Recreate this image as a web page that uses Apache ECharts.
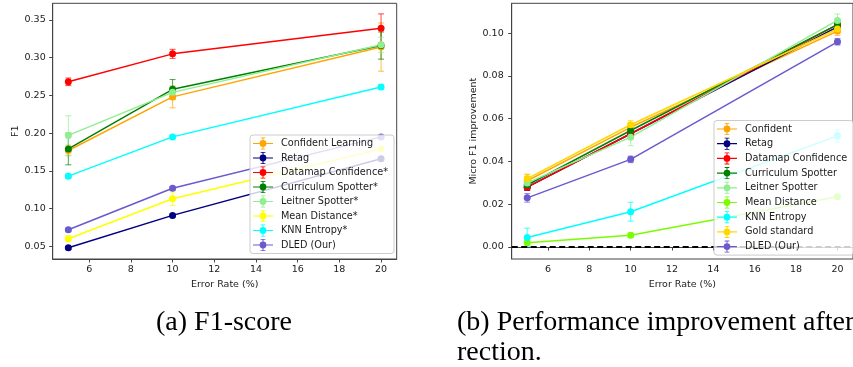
<!DOCTYPE html>
<html><head><meta charset="utf-8">
<script src="https://cdn.jsdelivr.net/npm/echarts@6/dist/echarts.min.js"></script>
<style>html,body{margin:0;padding:0;background:#fff;overflow:hidden}#c{width:853px;height:367px}</style>
</head><body><div id="c"></div>
<script>
// ---------- DATA ----------
const errorRates = [5, 10, 20];
const xTicks = [6, 8, 10, 12, 14, 16, 18, 20];

// (a) F1-score
const f1Names = ['Confident Learning', 'Retag', 'Datamap Confidence*', 'Curriculum Spotter*', 'Leitner Spotter*', 'Mean Distance*', 'KNN Entropy*', 'DLED (Our)'];
const f1ConfidentLearning = [0.177, 0.248, 0.314];
const f1Retag = [0.048, 0.091, 0.166];
const f1Datamap = [0.268, 0.305, 0.339];
const f1Curriculum = [0.179, 0.258, 0.316];
const f1Leitner = [0.197, 0.254, 0.317];
const f1MeanDistance = [0.060, 0.113, 0.179];
const f1KNN = [0.143, 0.195, 0.261];
const f1DLED = [0.072, 0.127, 0.195];
const f1ErrConfidentLearning = [0.007, 0.0145, 0.032];
const f1ErrRetag = [0.002, 0.002, 0.002];
const f1ErrDatamap = [0.005, 0.006, 0.019];
const f1ErrCurriculum = [0.021, 0.013, 0.018];
const f1ErrLeitner = [0.026, 0.008, 0.010];
const f1ErrMeanDistance = [0.004, 0.009, 0.003];
const f1ErrKNN = [0.003, 0.002, 0.003];
const f1ErrDLED = [0.002, 0.002, 0.002];
const f1YTicks = [0.05, 0.10, 0.15, 0.20, 0.25, 0.30, 0.35];

// (b) Micro F1 improvement
const impNames = ['Confident', 'Retag', 'Datamap Confidence', 'Curriculum Spotter', 'Leitner Spotter', 'Mean Distance', 'KNN Entropy', 'Gold standard', 'DLED (Our)'];
const impConfident = [0.031, 0.056, 0.101];
const impRetag = [0.028, 0.053, 0.103];
const impDatamap = [0.028, 0.053, 0.104];
const impCurriculum = [0.029, 0.0545, 0.104];
const impLeitner = [0.030, 0.0514, 0.106];
const impMeanDistance = [0.002, 0.0055, 0.0235];
const impKNN = [0.0045, 0.0165, 0.052];
const impGold = [0.032, 0.0572, 0.102];
const impDLED = [0.023, 0.041, 0.096];
const impErrConfident = [0.003, 0.002, 0.002];
const impErrRetag = [0.0015, 0.0015, 0.0015];
const impErrDatamap = [0.0015, 0.0015, 0.0015];
const impErrCurriculum = [0.0015, 0.0015, 0.0015];
const impErrLeitner = [0.003, 0.004, 0.003];
const impErrMeanDistance = [0.001, 0.001, 0.001];
const impErrKNN = [0.0043, 0.0044, 0.003];
const impErrGold = [0.002, 0.002, 0.002];
const impErrDLED = [0.002, 0.0015, 0.0015];
const impYTicks = [0.00, 0.02, 0.04, 0.06, 0.08, 0.10];
const impBaseline = 0;

const captionA = '(a) F1-score';
const captionB1 = '(b) Performance improvement after';
const captionB2 = 'rection.';

// ---------- STYLE ----------
const f1Colors = ['#FFA500', '#000080', '#FF0000', '#008000', '#90EE90', '#FFFF00', '#00FFFF', '#6A5ACD'];
const impColors = ['#FFA500', '#000080', '#FF0000', '#008000', '#90EE90', '#7CFC00', '#00FFFF', '#FFD700', '#6A5ACD'];
const f1Values = [f1ConfidentLearning, f1Retag, f1Datamap, f1Curriculum, f1Leitner, f1MeanDistance, f1KNN, f1DLED];
const f1Errs = [f1ErrConfidentLearning, f1ErrRetag, f1ErrDatamap, f1ErrCurriculum, f1ErrLeitner, f1ErrMeanDistance, f1ErrKNN, f1ErrDLED];
const impValues = [impConfident, impRetag, impDatamap, impCurriculum, impLeitner, impMeanDistance, impKNN, impGold, impDLED];
const impErrs = [impErrConfident, impErrRetag, impErrDatamap, impErrCurriculum, impErrLeitner, impErrMeanDistance, impErrKNN, impErrGold, impErrDLED];

const FONT = 'DejaVu Sans';
const TXT = '#1a1a1a';
// legend icon: line + marker + errorbar (non overlapping pieces)
const ICON = 'path://M0,5.4H6.6V6.6H0Z M13.4,5.4H20V6.6H13.4Z ' +
  'M6.6,6A3.4,3.4 0 1 1 13.4,6A3.4,3.4 0 1 1 6.6,6Z ' +
  'M9.5,0.8H10.5V2.6H9.5Z M9.5,9.4H10.5V11.2H9.5Z M7.6,0H12.4V0.8H7.6Z M7.6,11.2H12.4V12H7.6Z';

function errSeries(name, xs, ys, es, color, gi, z) {
  return {
    type: 'custom', name: name, xAxisIndex: gi, yAxisIndex: gi, z: z,
    silent: true, clip: false,
    data: xs.map((x, i) => [x, ys[i], es[i]]),
    encode: { x: 0, y: 1 },
    renderItem: function (params, api) {
      const x = api.value(0), y = api.value(1), e = api.value(2);
      const lo = api.coord([x, y - e]), hi = api.coord([x, y + e]);
      const st = { stroke: color, lineWidth: 1.1, opacity: 0.65 };
      return { type: 'group', children: [
        { type: 'line', shape: { x1: lo[0], y1: lo[1], x2: hi[0], y2: hi[1] }, style: st },
        { type: 'line', shape: { x1: lo[0] - 3, y1: lo[1], x2: lo[0] + 3, y2: lo[1] }, style: st },
        { type: 'line', shape: { x1: hi[0] - 3, y1: hi[1], x2: hi[0] + 3, y2: hi[1] }, style: st }
      ]};
    }
  };
}
function lineSeries(name, xs, ys, color, gi, z) {
  return {
    type: 'line', name: name, xAxisIndex: gi, yAxisIndex: gi, z: z,
    data: xs.map((x, i) => [x, ys[i]]),
    symbol: 'circle', symbolSize: 7, showSymbol: true,
    lineStyle: { color: color, width: 1.5 },
    itemStyle: { color: color, borderWidth: 0 },
    emphasis: { disabled: true }, animation: false
  };
}

const series = [];
f1Names.forEach((n, i) => {
  series.push(errSeries('e_a' + i, errorRates, f1Values[i], f1Errs[i], f1Colors[i], 0, 2));
  series.push(lineSeries(n, errorRates, f1Values[i], f1Colors[i], 0, 2));
});
impNames.forEach((n, i) => {
  series.push(errSeries('e_b' + i, errorRates, impValues[i], impErrs[i], impColors[i], 1, 2));
  const s = lineSeries(n, errorRates, impValues[i], impColors[i], 1, 2);
  if (i === 0) {
    s.markLine = {
      silent: true, symbol: ['none', 'none'], label: { show: false }, z: 3,
      lineStyle: { color: '#000000', type: [6, 3.5], width: 1.8, opacity: 1 },
      emphasis: { disabled: true },
      data: [{ yAxis: impBaseline }], animation: false
    };
  }
  series.push(s);
});

function xAxis(gi) {
  return {
    type: 'value', gridIndex: gi, min: 4.25, max: 20.75,
    name: 'Error Rate (%)', nameLocation: 'middle', nameGap: 20,
    nameTextStyle: { fontFamily: FONT, fontSize: 9.5, color: TXT },
    axisLine: { show: true, lineStyle: { color: '#444', width: 1 } },
    axisTick: { show: true, length: 3.5, lineStyle: { color: '#444' }, customValues: xTicks },
    axisLabel: { fontFamily: FONT, fontSize: 9.5, color: TXT, margin: 6, customValues: xTicks },
    splitLine: { show: false }
  };
}
function yAxis(gi, min, max, ticks, name, gap, margin) {
  return {
    type: 'value', gridIndex: gi, min: min, max: max,
    name: name, nameLocation: 'middle', nameGap: gap,
    nameTextStyle: { fontFamily: FONT, fontSize: 9.5, color: TXT },
    axisLine: { show: true, lineStyle: { color: '#444', width: 1 } },
    axisTick: { show: true, length: 3.5, lineStyle: { color: '#444' }, customValues: ticks },
    axisLabel: { fontFamily: FONT, fontSize: 9.5, color: TXT, margin: margin, customValues: ticks,
      formatter: v => v.toFixed(2) },
    splitLine: { show: false }
  };
}
function legend(names, left, top, gap) {
  return {
    orient: 'vertical', left: left, top: top,
    data: names.map(n => ({ name: n, icon: ICON })),
    itemWidth: 20, itemHeight: 12, itemGap: gap, padding: [2.5, 6, 2.5, 3],
    backgroundColor: 'rgba(255,255,255,0.8)', borderColor: '#cccccc', borderWidth: 1, borderRadius: 3,
    itemStyle: { borderWidth: 0 },
    textStyle: { fontFamily: FONT, fontSize: 9.7, color: TXT, padding: [0, 0, 0, 3] },
    selectedMode: false, z: 10
  };
}

const chart = echarts.init(document.getElementById('c'), null, { renderer: 'canvas' });
chart.setOption({
  animation: false,
  backgroundColor: '#fff',
  grid: [
    { left: 52.7, top: 3.3, width: 344, height: 255.7, show: true, borderColor: '#444', borderWidth: 1, backgroundColor: 'transparent' },
    { left: 511.7, top: 3.3, width: 343.3, height: 255.7, show: true, borderColor: '#444', borderWidth: 1, backgroundColor: 'transparent' }
  ],
  xAxis: [xAxis(0), xAxis(1)],
  yAxis: [
    yAxis(0, 0.0332, 0.372, f1YTicks, 'F1', 31, 7),
    yAxis(1, -0.0056, 0.114, impYTicks, 'Micro F1 improvement', 31, 8)
  ],
  legend: [legend(f1Names, 250, 135, 2.5), legend(impNames, 714, 120.5, 2.7)],
  series: series,
  graphic: [
    { type: 'text', left: 156, top: 309, silent: true,
      style: { text: captionA, font: '28px "Liberation Serif"', fill: '#000' } },
    { type: 'text', left: 457, top: 309, silent: true,
      style: { text: captionB1, font: '28px "Liberation Serif"', fill: '#000' } },
    { type: 'text', left: 457, top: 339, silent: true,
      style: { text: captionB2, font: '28px "Liberation Serif"', fill: '#000' } }
  ]
});
</script></body></html>
